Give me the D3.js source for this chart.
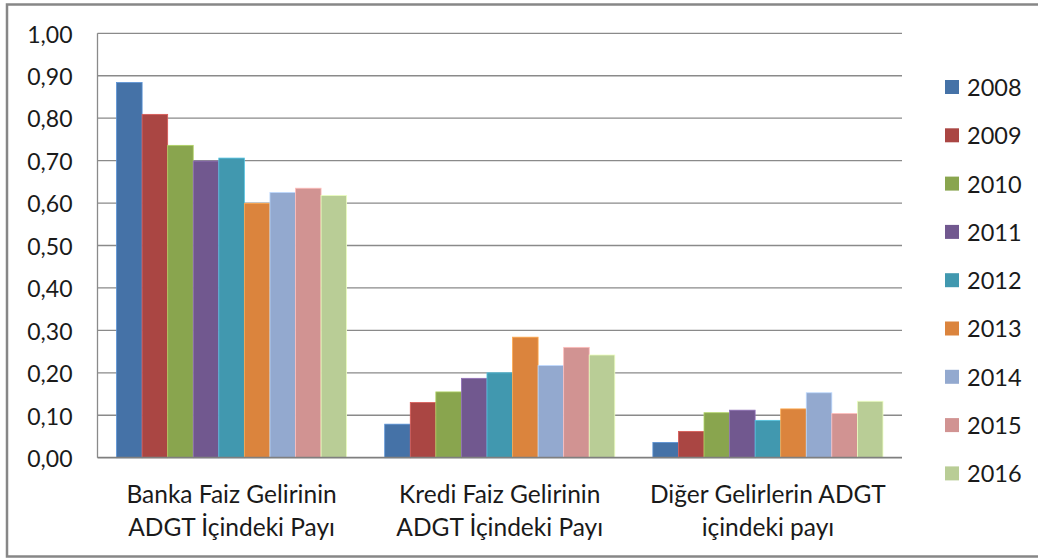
<!DOCTYPE html>
<html>
<head>
<meta charset="utf-8">
<script src="https://cdn.jsdelivr.net/npm/d3@7"></script>
<style>
    html, body { margin: 0; padding: 0; background: #fff; }
    #chart text { font-family: Lato, "Open Sans", sans-serif; fill: #1a1a1a; }
</style>
</head>
<body>
<div id="chart"></div>
<script>
const categories = [
    ["Banka Faiz Gelirinin", "ADGT İçindeki Payı"],
    ["Kredi Faiz Gelirinin", "ADGT İçindeki Payı"],
    ["Diğer Gelirlerin ADGT", "içindeki payı"]
];
const years = ["2008", "2009", "2010", "2011", "2012", "2013", "2014", "2015", "2016"];

// one array per category, in year order
const bankaFaiz = [0.884, 0.809, 0.736, 0.699, 0.706, 0.599, 0.625, 0.635, 0.618];
const krediFaiz = [0.079, 0.130, 0.155, 0.187, 0.200, 0.284, 0.217, 0.260, 0.242];
const digerGelir = [0.036, 0.062, 0.106, 0.112, 0.088, 0.115, 0.153, 0.104, 0.133];

const yTicks = [0, 0.1, 0.2, 0.3, 0.4, 0.5, 0.6, 0.7, 0.8, 0.9, 1.0];
const colors = ["#4572A7", "#AA4643", "#89A54E", "#71588F", "#4198AF", "#DB843D", "#93A9CF", "#D19392", "#B9CD96"];

const seriesByCategory = [bankaFaiz, krediFaiz, digerGelir];

document.addEventListener("DOMContentLoaded", function() {
    drawChart();
});

function drawChart() {
    const width = 1038;
    const height = 559;
    const plot = { left: 97.5, right: 902, top: 33.3, bottom: 457.7 };

    const svg = d3.select("#chart")
        .append("svg")
        .attr("width", width)
        .attr("height", height);

    // outer frame (right side runs off the picture)
    svg.append("rect")
        .attr("x", 7)
        .attr("y", 4.5)
        .attr("width", 1040)
        .attr("height", 552)
        .attr("fill", "none")
        .attr("stroke", "#878787")
        .attr("stroke-width", 2.5);

    const x0 = d3.scaleBand()
        .domain(d3.range(categories.length))
        .range([plot.left, plot.right])
        .paddingInner(0.142)
        .paddingOuter(0.071);

    const x1 = d3.scaleBand()
        .domain(years)
        .range([0, x0.bandwidth()]);

    const y = d3.scaleLinear()
        .domain([0, 1])
        .range([plot.bottom, plot.top]);

    // gridlines
    svg.append("g")
        .selectAll("line")
        .data(yTicks.filter(t => t > 0))
        .enter()
        .append("line")
        .attr("x1", plot.left)
        .attr("x2", plot.right)
        .attr("y1", d => y(d))
        .attr("y2", d => y(d))
        .attr("stroke", "#8a8a8a")
        .attr("stroke-width", 1.3);

    // y axis labels
    const yAxis = d3.axisLeft(y)
        .tickValues(yTicks)
        .tickSize(0)
        .tickPadding(25)
        .tickFormat(d => d3.format(".2f")(d).replace(".", ","));

    const yg = svg.append("g")
        .attr("transform", `translate(${plot.left},0)`)
        .call(yAxis);
    yg.select(".domain").remove();
    yg.selectAll("text")
        .attr("font-size", 23)
        .attr("dy", "0.38em");

    // bars
    const groups = svg.append("g")
        .selectAll("g")
        .data(seriesByCategory)
        .enter()
        .append("g")
        .attr("transform", (d, i) => `translate(${x0(i)},0)`);

    groups.selectAll("rect")
        .data(d => d.map((v, i) => ({ year: years[i], value: v, color: colors[i] })))
        .enter()
        .append("rect")
        .attr("x", d => x1(d.year))
        .attr("y", d => y(d.value))
        .attr("width", x1.bandwidth())
        .attr("height", d => y(0) - y(d.value))
        .attr("fill", d => d.color)
        .attr("stroke", d => d3.color(d.color).brighter(0.7))
        .attr("stroke-width", 0.8);

    // axis lines
    svg.append("line")
        .attr("x1", plot.left).attr("x2", plot.left)
        .attr("y1", plot.top).attr("y2", plot.bottom)
        .attr("stroke", "#8a8a8a")
        .attr("stroke-width", 1.3);
    svg.append("line")
        .attr("x1", plot.left).attr("x2", plot.right)
        .attr("y1", plot.bottom).attr("y2", plot.bottom)
        .attr("stroke", "#7f7f7f")
        .attr("stroke-width", 1.8);

    // category labels
    const catLabels = svg.append("g")
        .selectAll("text")
        .data(categories)
        .enter()
        .append("text")
        .attr("text-anchor", "middle")
        .attr("font-size", 24.5)
        .attr("x", (d, i) => x0(i) + x0.bandwidth() / 2)
        .attr("y", 503);
    catLabels.selectAll("tspan")
        .data(d => d)
        .enter()
        .append("tspan")
        .attr("x", function() { return d3.select(this.parentNode).attr("x"); })
        .attr("dy", (d, i) => i === 0 ? 0 : 33)
        .text(d => d);

    // legend
    const legend = svg.append("g")
        .selectAll("g")
        .data(years)
        .enter()
        .append("g")
        .attr("transform", (d, i) => `translate(945,${87 + i * 48.3})`);

    legend.append("rect")
        .attr("x", 0)
        .attr("y", -7)
        .attr("width", 14)
        .attr("height", 14)
        .attr("fill", (d, i) => colors[i]);

    legend.append("text")
        .attr("x", 22)
        .attr("y", 0)
        .attr("dy", "0.38em")
        .attr("font-size", 23.5)
        .text(d => d);
}
</script>
</body>
</html>
